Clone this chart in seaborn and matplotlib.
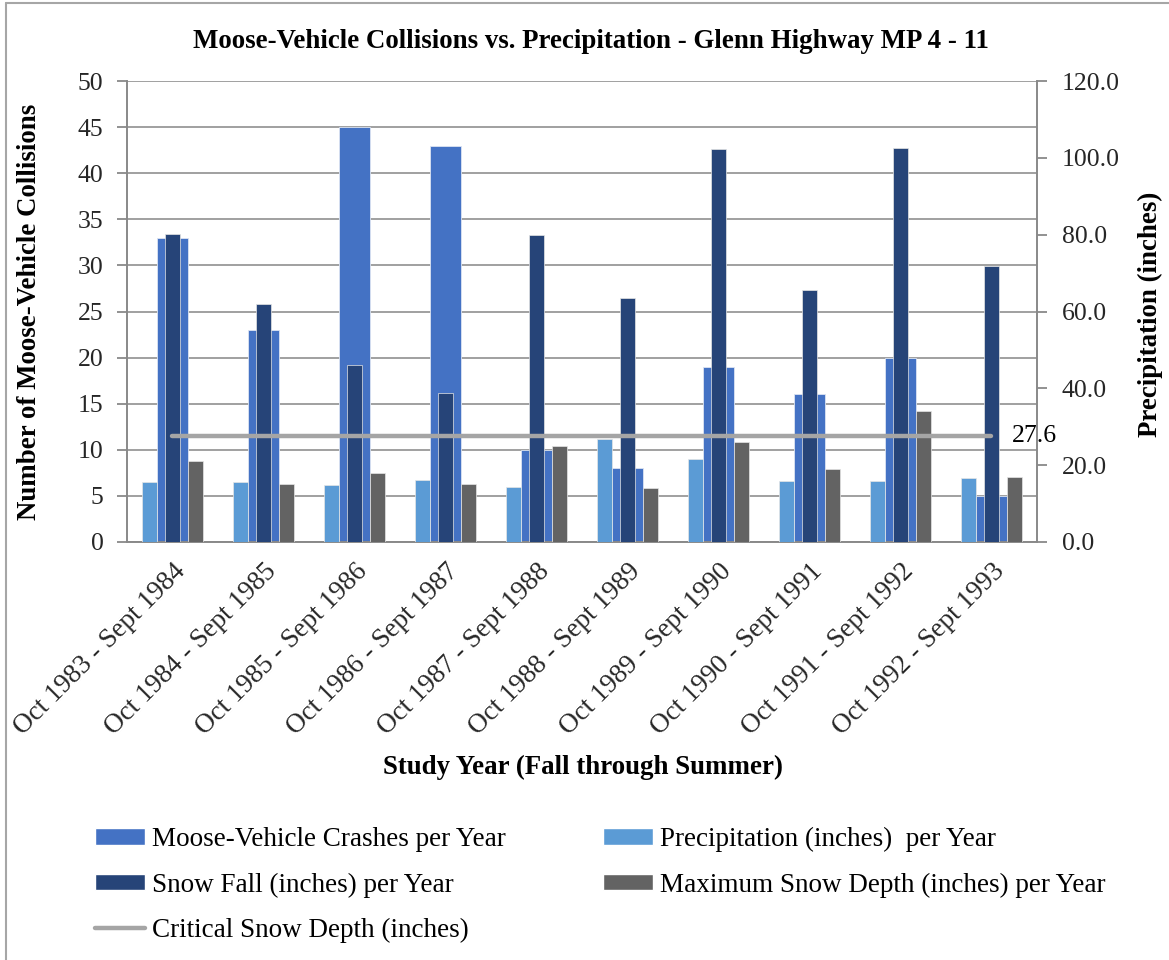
import numpy as np
import pandas as pd
import matplotlib
matplotlib.use("Agg")
import matplotlib.pyplot as plt
from matplotlib.patches import Patch
from matplotlib.lines import Line2D
import seaborn as sns

# ---- data -------------------------------------------------------------
study_years = [
    "Oct 1983 - Sept 1984", "Oct 1984 - Sept 1985", "Oct 1985 - Sept 1986",
    "Oct 1986 - Sept 1987", "Oct 1987 - Sept 1988", "Oct 1988 - Sept 1989",
    "Oct 1989 - Sept 1990", "Oct 1990 - Sept 1991", "Oct 1991 - Sept 1992",
    "Oct 1992 - Sept 1993",
]
crashes = [33, 23, 45, 43, 10, 8, 19, 16, 20, 5]
precipitation = [15.7, 15.5, 14.8, 16.1, 14.4, 26.9, 21.5, 15.8, 15.8, 16.7]
snowfall = [80.2, 62.0, 46.2, 38.8, 79.9, 63.6, 102.3, 65.7, 102.6, 71.8]
max_snow_depth = [21.0, 15.0, 18.0, 15.0, 25.0, 14.1, 26.0, 19.0, 34.0, 17.0]
critical_depth = [27.6] * len(study_years)

left_ticks = list(range(0, 51, 5))
right_ticks = list(range(0, 121, 20))

lbl_crash = "Moose-Vehicle Crashes per Year"
lbl_precip = "Precipitation (inches)  per Year"
lbl_snow = "Snow Fall (inches) per Year"
lbl_depth = "Maximum Snow Depth (inches) per Year"
lbl_crit = "Critical Snow Depth (inches)"

c_crash = "#4472C4"
c_precip = "#5B9BD5"
c_snow = "#264478"
c_depth = "#636363"
c_crit = "#A5A5A5"
c_axis = "#898989"

# ---- style ------------------------------------------------------------
sns.set_style("white")
plt.rcParams["font.family"] = ["Liberation Serif", "DejaVu Serif"]
plt.rcParams["text.color"] = "black"

W, H = 1169, 960
fig = plt.figure(figsize=(W / 100, H / 100), dpi=100)
ax1 = fig.add_axes([127 / W, 1 - 542 / H, 910 / W, 461 / H])
ax2 = ax1.twinx()

# gridlines behind everything on the primary axis
ax1.set_axisbelow(True)
ax1.yaxis.grid(True, color="#A0A0A0", linewidth=1.4)
ax1.xaxis.grid(False)

# primary axis: crashes
sns.barplot(x=study_years, y=crashes, ax=ax1, color=c_crash, width=0.33,
            saturation=1, errorbar=None, edgecolor="#DCE4F2", linewidth=0.6)

# secondary axis: weather series
long_df = pd.DataFrame({
    "year": study_years * 3,
    "value": precipitation + snowfall + max_snow_depth,
    "series": [lbl_precip] * 10 + [lbl_snow] * 10 + [lbl_depth] * 10,
})
sns.barplot(data=long_df, x="year", y="value", hue="series",
            hue_order=[lbl_precip, lbl_snow, lbl_depth],
            palette=[c_precip, c_snow, c_depth], width=0.758, gap=0.35,
            saturation=1, errorbar=None, ax=ax2, legend=False,
            edgecolor="#E6E6E6", linewidth=0.5)

xpos = np.arange(len(study_years))
sns.lineplot(x=xpos, y=critical_depth, ax=ax2, color=c_crit, linewidth=3.2,
             legend=False)
ax2.text(xpos[-1] + 0.22, critical_depth[-1], f"{critical_depth[-1]:.1f}",
         fontsize=18.5, va="center", ha="left")

# ---- axes -------------------------------------------------------------
ax1.set_xlim(-0.5, len(study_years) - 0.5)
ax1.set_ylim(0, 50)
ax2.set_ylim(0, 120)
ax1.set_yticks(left_ticks)
ax1.set_yticklabels([str(t) for t in left_ticks])
ax2.set_yticks(right_ticks)
ax2.set_yticklabels([f"{t:.1f}" for t in right_ticks])

ax1.set_xticks(xpos)
ax1.set_xticks(np.arange(-0.5, len(study_years)), minor=True)
ax1.set_xticklabels(study_years, rotation=45, ha="right",
                    rotation_mode="anchor", fontsize=19.5)
ax1.tick_params(axis="x", which="major", length=0, pad=12)
ax1.tick_params(axis="x", which="minor", length=7, width=1.3,
                color=c_axis, direction="out")
ax1.tick_params(axis="y", length=7, width=1.3, color=c_axis,
                direction="out", labelsize=18.5, pad=10)
ax2.tick_params(axis="y", length=7, width=1.3, color=c_axis,
                direction="out", labelsize=18.5, pad=11)

for ax in (ax1, ax2):
    ax.spines["top"].set_visible(False)
    for side in ("left", "right", "bottom"):
        ax.spines[side].set_color(c_axis)
        ax.spines[side].set_linewidth(1.4)
ax2.spines["left"].set_visible(False)
ax2.spines["bottom"].set_visible(False)
ax1.spines["right"].set_visible(False)

ax1.set_xlabel("")
ax1.set_ylabel("")
ax2.set_ylabel("")

label_size = 19.4
fig.text(30 / W, 1 - 312 / H, "Number of Moose-Vehicle Collisions",
         rotation=90, ha="center", va="center", fontsize=label_size,
         fontweight="bold")
fig.text(1150 / W, 1 - 314 / H, "Precipitation (inches)",
         rotation=90, ha="center", va="center", fontsize=label_size,
         fontweight="bold")
fig.text(583 / W, 1 - 767 / H, "Study Year (Fall through Summer)",
         ha="center", va="center", fontsize=label_size, fontweight="bold")
fig.text(591 / W, 1 - 41 / H,
         "Moose-Vehicle Collisions vs. Precipitation - Glenn Highway MP 4 - 11",
         ha="center", va="center", fontsize=label_size, fontweight="bold")

# ---- legend -----------------------------------------------------------
h_crash = Patch(facecolor=c_crash)
h_precip = Patch(facecolor=c_precip)
h_snow = Patch(facecolor=c_snow)
h_depth = Patch(facecolor=c_depth)
h_crit = Line2D([], [], color=c_crit, linewidth=3.2)
fig.legend([h_crash, h_snow, h_crit, h_precip, h_depth],
           [lbl_crash, lbl_snow, lbl_crit, lbl_precip, lbl_depth],
           ncol=2, loc="upper left", bbox_to_anchor=(95 / W, 1 - 827 / H),
           frameon=False, fontsize=19.5, handlelength=1.85, handleheight=0.55,
           handletextpad=0.25, labelspacing=0.75, columnspacing=3.6,
           borderpad=0, borderaxespad=0)

# chart-area border
fig.add_artist(Line2D([6 / W, 6 / W], [0, 1 - 3 / H], transform=fig.transFigure,
                      color="#A6A6A6", linewidth=1.5))
fig.add_artist(Line2D([6 / W, 1], [1 - 3 / H, 1 - 3 / H],
                      transform=fig.transFigure, color="#A6A6A6",
                      linewidth=1.5))

fig.savefig("out.png", dpi=100)
